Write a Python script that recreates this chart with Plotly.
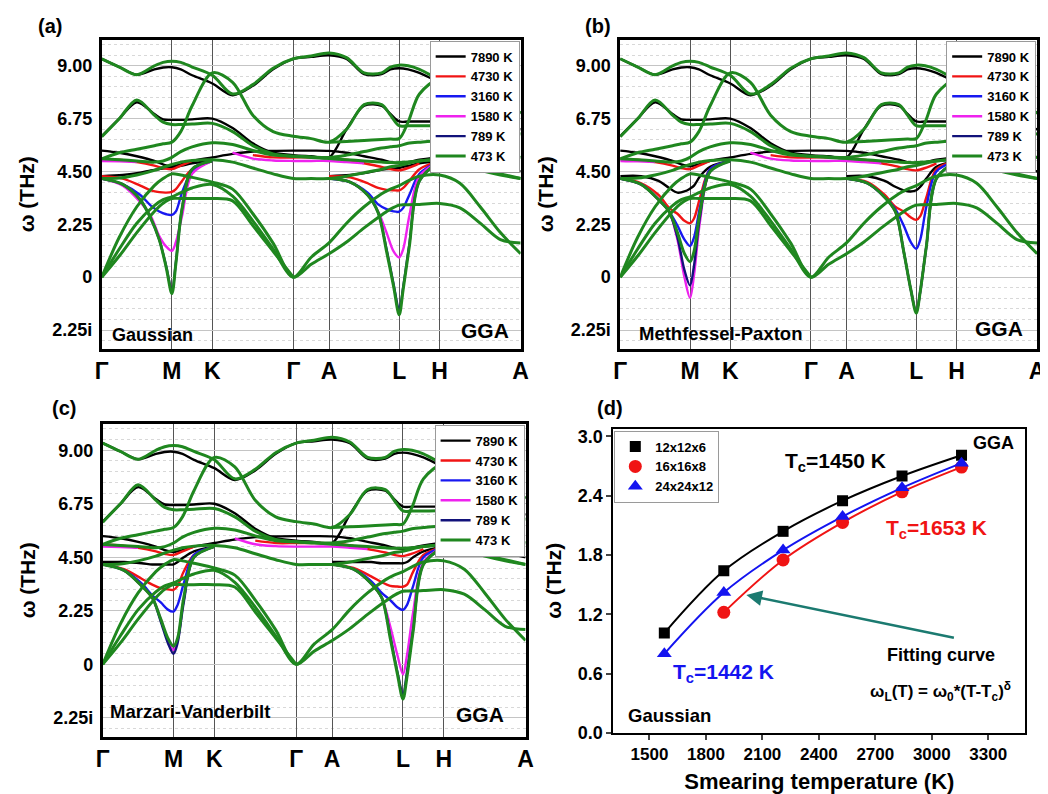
import plotly.graph_objects as go

# ---------------- k-path (hcp: Γ-M-K-Γ-A-L-H-A) ----------------
HS_POS = [0, 0.866, 1.366, 2.366, 2.807, 3.673, 4.173, 5.173]
HS_LABELS = ["Γ", "M", "K", "Γ", "A", "L", "H", "A"]
K_PATH = [0, 0.2165, 0.433, 0.6495, 0.7578, 0.866, 0.976, 1.116, 1.366, 1.616, 1.866, 2.116, 2.366,
          2.5865, 2.807, 3.0235, 3.240, 3.4565, 3.5648, 3.673, 3.783, 3.923, 4.173, 4.423, 4.673, 4.923, 5.173]
K_SOFT_M = [0, 0.26, 0.476, 0.606, 0.710, 0.797, 0.866, 0.916, 0.991, 1.116, 1.366]
K_SOFT_L = [2.807, 3.067, 3.283, 3.413, 3.517, 3.604, 3.673, 3.723, 3.798, 3.923, 4.173]

TEMPS = ["7890 K", "4730 K", "3160 K", "1580 K", "789 K", "473 K"]
COLORS = ["#000000", "#f01414", "#1818f0", "#ee22ee", "#12127a", "#1f871f"]
WIDTHS = [2.4, 2.4, 2.4, 2.4, 2.4, 3.0]

# ---------------- base bands (473 K), THz ----------------
BAND_TOP = [9.30, 8.95, 8.62, 9.0, 9.15, 9.2, 9.15, 8.95, 8.6, 7.8, 8.2, 8.9, 9.30, 9.42, 9.55, 9.35,
            8.7, 8.7, 8.95, 9.03, 9.0, 8.85, 8.4, 8.0, 7.6, 7.2, 7.0]
BAND_CROSS = [5.04, 5.3, 5.45, 5.6, 5.68, 5.75, 6.2, 7.3, 8.7, 8.3, 6.9, 6.2, 6.0, 5.9, 5.75, 6.3,
              7.35, 7.35, 6.9, 6.45, 6.45, 6.45, 6.45, 6.4, 6.3, 6.2, 6.1]
BAND_PEAK = [5.98, 6.75, 7.55, 6.9, 6.6, 6.5, 6.5, 6.52, 6.55, 6.2, 5.6, 5.25, 5.15, 5.1, 5.05, 5.0,
             4.95, 4.9, 4.88, 4.88, 4.9, 4.95, 5.0, 4.8, 4.55, 4.35, 4.2]
BAND_RISE_L = [None] * 14 + [5.75, 5.78, 5.82, 5.86, 5.88, 5.9, 6.6, 7.8, 8.45, 8.2, 7.8, 7.4, 7.0]
BAND_MID = [5.04, 5.0, 4.95, 4.9, 4.95, 5.1, 5.35, 5.55, 5.72, 5.65, 5.4, 5.2, 5.15, 5.12, 5.1, 5.2,
            5.35, 5.5, 5.55, 5.6, 5.7, 5.75, 5.8, 5.7, 5.5, 5.3, 5.1]
BAND_FLAT = [4.2, 4.22, 4.35, 4.55, 4.68, 4.8, 4.9, 4.97, 5.0, 4.9, 4.65, 4.4, 4.2, 4.2, 4.2, 4.3,
             4.45, 4.6, 4.7, 4.75, 4.85, 4.95, 5.0, 4.85, 4.6, 4.4, 4.2]
AC_1 = [0, 1.7, 3.0, 3.9, 4.2, 4.4, 4.35, 4.25, 4.05, 3.75, 2.7, 1.45, 0, 0.85, 1.46, 2.3, 3.0, 3.55,
        3.75, 3.9, 4.1, 4.3, 4.35, 4.0, 3.0, 1.9, 1.0]
AC_2 = [0, 1.2, 2.3, 3.05, 3.3, 3.42, 3.6, 3.8, 3.95, 3.45, 2.4, 1.2, 0, 0.55, 1.0, 1.5, 2.1, 2.65,
        2.9, 3.07, 3.08, 3.1, 3.14, 2.95, 2.3, 1.6, 1.46]
AC_3 = [0, 0.9, 1.9, 2.8, 3.15, 3.35, 3.35, 3.35, 3.35, 3.25, 2.2, 1.1, 0] + [None] * 14

# high-smearing (7890 K) and intermediate offsets
HOT_TOP = [9.30, 8.95, 8.62, 8.85, 8.93, 8.94, 8.85, 8.6, 8.25, 7.75, 8.15, 8.85, 9.30, 9.38, 9.45,
           9.3, 8.65, 8.65, 8.85, 8.9, 8.85, 8.7, 8.3, 8.0, 7.6, 7.2, 7.0]
HOT_PEAK = [6.0, 6.75, 7.45, 6.95, 6.72, 6.7, 6.7, 6.72, 6.75, 6.35, 5.7, 5.3, 5.2, 5.15, 5.1, 6.3,
            7.3, 7.3, 6.95, 6.63, 6.63, 6.63, 6.63, 6.6, 6.5, 6.4, 6.3]
HOT_MID = [5.39, 5.3, 5.15, 4.95, 4.8, 4.72, 4.8, 4.95, 5.1, 5.25, 5.35, 5.38, 5.39, 5.39, 5.38, 5.3,
           5.15, 5.0, 4.9, 4.85, 4.9, 5.0, 5.1, 5.05, 4.9, 4.7, 4.5]
RED_MID = [5.04, 5.0, 4.9, 4.75, 4.65, 4.6, 4.75, 4.95, None, None, 5.2, 5.1, 5.1, 5.1, 5.08, 5.0, 4.85,
           4.7, 4.6, 4.55, 4.65, 4.85, None, None, None, None, None]
MAG_MID = [4.95, 4.93, 4.9, None, None, None, None, None, None, 5.3, 5.05, 4.97, 4.95, 4.95, 4.95, 4.9,
           4.85, None, None, None, None, None, None, None, None, None, None]

# soft modes (rows follow TEMPS order)
SOFT_M_A = [[4.3, 4.35, 4.45, 4.55, 4.6, 4.65, 4.67, 4.7, 4.75, 4.85, 4.95],
            [4.3, 4.2, 3.9, 3.7, 3.62, 3.6, 3.63, 3.75, 4.1, 4.6, 4.95],
            [4.2, 3.95, 3.5, 3.05, 2.8, 2.68, 2.65, 2.8, 3.6, 4.5, 4.95],
            [4.2, 3.9, 3.2, 2.6, 1.75, 1.3, 1.12, 1.5, 2.6, 4.4, 4.95],
            [4.2, 3.95, 3.3, 2.5, 1.6, 0.45, -0.6, 0.65, 2.9, 4.6, 4.95],
            [4.2, 3.95, 3.3, 2.5, 1.6, 0.4, -0.7, 0.6, 2.9, 4.6, 4.95]]
SOFT_L_A = [[4.3, 4.35, 4.45, 4.55, 4.6, 4.62, 4.65, 4.7, 4.75, 4.85, 4.95],
            [4.3, 4.25, 4.0, 3.8, 3.72, 3.7, 3.7, 3.8, 4.1, 4.6, 4.95],
            [4.2, 4.05, 3.6, 3.1, 2.9, 2.8, 2.79, 2.95, 3.5, 4.4, 4.95],
            [4.2, 4.05, 3.5, 2.8, 1.9, 1.1, 0.84, 1.2, 2.6, 4.3, 4.95],
            [4.2, 4.05, 3.5, 2.75, 1.2, -0.3, -1.4, -0.4, 1.4, 4.1, 4.95],
            [4.2, 4.05, 3.5, 2.75, 1.1, -0.4, -1.6, -0.5, 1.3, 4.1, 4.95]]
SOFT_M_B = [[4.3, 4.3, 4.1, 3.8, 3.6, 3.65, 3.77, 3.9, 4.3, 4.7, 4.95],
            [4.2, 4.0, 3.5, 2.95, 2.7, 2.4, 2.3, 2.5, 3.4, 4.6, 4.95],
            [4.2, 3.95, 3.3, 2.8, 2.2, 1.6, 1.33, 1.7, 3.0, 4.6, 4.95],
            [4.2, 3.95, 3.3, 2.8, 1.6, 0.0, -0.88, 0.1, 2.4, 4.5, 4.95],
            [4.2, 3.95, 3.3, 2.8, 1.7, 0.3, -0.35, 0.5, 2.6, 4.5, 4.95],
            [4.2, 3.95, 3.3, 2.8, 1.9, 1.0, 0.66, 1.1, 2.8, 4.5, 4.95]]
SOFT_L_B = [[4.3, 4.3, 4.1, 3.85, 3.7, 3.65, 3.7, 3.85, 4.2, 4.7, 4.95],
            [4.2, 4.05, 3.5, 3.0, 2.8, 2.55, 2.44, 2.6, 3.4, 4.6, 4.95],
            [4.2, 4.0, 3.4, 2.9, 2.2, 1.5, 1.21, 1.6, 3.0, 4.5, 4.95],
            [4.2, 4.0, 3.4, 2.8, 1.1, -0.5, -1.5, -0.6, 1.3, 4.2, 4.95],
            [4.2, 4.0, 3.4, 2.8, 1.1, -0.5, -1.5, -0.6, 1.3, 4.2, 4.95],
            [4.2, 4.0, 3.4, 2.8, 1.1, -0.5, -1.53, -0.6, 1.3, 4.2, 4.95]]
SOFT_M_C = [[4.3, 4.3, 4.25, 4.2, 4.2, 4.2, 4.2, 4.3, 4.5, 4.75, 4.95],
            [4.2, 4.0, 3.6, 3.35, 3.2, 3.15, 3.13, 3.3, 3.9, 4.6, 4.95],
            [4.2, 3.95, 3.4, 2.9, 2.6, 2.3, 2.22, 2.5, 3.4, 4.6, 4.95],
            [4.2, 3.95, 3.3, 2.8, 1.9, 1.0, 0.6, 1.0, 2.7, 4.5, 4.95],
            [4.2, 3.95, 3.3, 2.8, 1.8, 0.9, 0.44, 0.9, 2.6, 4.5, 4.95],
            [4.2, 3.95, 3.3, 2.8, 1.9, 1.1, 0.76, 1.1, 2.8, 4.5, 4.95]]
SOFT_L_C = [[4.3, 4.3, 4.3, 4.25, 4.25, 4.25, 4.25, 4.3, 4.5, 4.75, 4.95],
            [4.2, 4.05, 3.7, 3.45, 3.3, 3.27, 3.26, 3.35, 3.9, 4.6, 4.95],
            [4.2, 4.0, 3.5, 3.0, 2.7, 2.4, 2.29, 2.5, 3.3, 4.5, 4.95],
            [4.2, 4.0, 3.4, 2.8, 1.6, 0.4, -0.42, 0.4, 2.2, 4.3, 4.95],
            [4.2, 4.0, 3.4, 2.8, 1.2, -0.3, -1.25, -0.3, 1.5, 4.2, 4.95],
            [4.2, 4.0, 3.4, 2.8, 1.1, -0.4, -1.46, -0.5, 1.4, 4.2, 4.95]]

Y_TICKS = [-2.25, 0, 2.25, 4.5, 6.75, 9.0]
Y_TICKTEXT = ["2.25i", "0", "2.25", "4.50", "6.75", "9.00"]

# ---------------- panel (d) data ----------------
T_SMEAR = [1579, 1895, 2210, 2526, 2842, 3158]
W_12 = [1.01, 1.64, 2.04, 2.35, 2.60, 2.81]
T_16 = [1895, 2210, 2526, 2842, 3158]
W_16 = [1.22, 1.75, 2.13, 2.44, 2.69]
W_24 = [0.80, 1.42, 1.85, 2.19, 2.48, 2.73]
GRIDS = ["12x12x6", "16x16x8", "24x24x12"]

FONT = "Liberation Sans, Arial, sans-serif"
W, H = 1048, 794

fig = go.Figure()

panels = [
    ("x", "y", "legend", SOFT_M_A, SOFT_L_A),
    ("x2", "y2", "legend2", SOFT_M_B, SOFT_L_B),
    ("x3", "y3", "legend3", SOFT_M_C, SOFT_L_C),
]

base_bands = [BAND_TOP, BAND_CROSS, BAND_PEAK, BAND_RISE_L, BAND_MID, BAND_FLAT, AC_1, AC_2, AC_3]

for xa, ya, leg, soft_m, soft_l in panels:
    for ti, (tname, col, wd) in enumerate(zip(TEMPS, COLORS, WIDTHS)):
        curves = []
        if ti == 0:
            curves += [(K_PATH, HOT_TOP), (K_PATH, HOT_PEAK), (K_PATH, HOT_MID)]
        if ti == 1:
            curves += [(K_PATH, RED_MID)]
        if ti == 3:
            curves += [(K_PATH, MAG_MID)]
        curves += [(K_SOFT_M, soft_m[ti]), (K_SOFT_L, soft_l[ti])]
        if ti == 5:
            curves = [(K_PATH, b) for b in base_bands] + curves
        for ci, (kx, vals) in enumerate(curves):
            fig.add_trace(go.Scatter(
                x=kx, y=vals, mode="lines", name=tname, legendgroup=tname + xa,
                showlegend=(ci == 0), legend=leg, connectgaps=False,
                line=dict(color=col, width=wd, shape="spline", smoothing=0.9),
                xaxis=xa, yaxis=ya, hoverinfo="skip"))

# panel (d)
fig.add_trace(go.Scatter(x=T_SMEAR, y=W_12, mode="lines", line=dict(color="black", width=2, shape="spline"),
                         showlegend=False, xaxis="x4", yaxis="y4"))
fig.add_trace(go.Scatter(x=T_16, y=W_16, mode="lines", line=dict(color="#f01414", width=2, shape="spline"),
                         showlegend=False, xaxis="x4", yaxis="y4"))
fig.add_trace(go.Scatter(x=T_SMEAR, y=W_24, mode="lines", line=dict(color="#1414f0", width=2, shape="spline"),
                         showlegend=False, xaxis="x4", yaxis="y4"))
fig.add_trace(go.Scatter(x=T_SMEAR, y=W_12, mode="markers", name=GRIDS[0], legend="legend4",
                         marker=dict(symbol="square", size=11, color="black"), xaxis="x4", yaxis="y4"))
fig.add_trace(go.Scatter(x=T_16, y=W_16, mode="markers", name=GRIDS[1], legend="legend4",
                         marker=dict(symbol="circle", size=13, color="#f01414"), xaxis="x4", yaxis="y4"))
fig.add_trace(go.Scatter(x=T_SMEAR, y=W_24, mode="markers", name=GRIDS[2], legend="legend4",
                         marker=dict(symbol="triangle-up", size=13, color="#1414f0"), xaxis="x4", yaxis="y4"))


def px_dom_x(a, b):
    return [a / W, b / W]


def px_dom_y(top, bot):
    return [1 - bot / H, 1 - top / H]


band_x = dict(range=[0, HS_POS[-1]], tickmode="array", tickvals=HS_POS, ticktext=HS_LABELS,
              showgrid=True, gridcolor="#555555", gridwidth=1.2, zeroline=False,
              showline=True, mirror=True, linecolor="black", linewidth=2.5, ticks="",
              tickfont=dict(family=FONT, size=23, color="black", weight="bold"), ticklabelstandoff=0)
band_y = dict(range=[-3.05, 10.12], tickmode="array", tickvals=Y_TICKS, ticktext=Y_TICKTEXT,
              showgrid=True, gridcolor="#c4c4c4", gridwidth=1, zeroline=False,
              minor=dict(tick0=0, dtick=0.45, showgrid=True, gridcolor="#d8d8d8", griddash="dot", gridwidth=1),
              showline=True, mirror=True, linecolor="black", linewidth=2.5, ticks="",
              tickfont=dict(family=FONT, size=18, color="black", weight="bold"), ticklabelstandoff=3,
              title=dict(text="ω (THz)", font=dict(family=FONT, size=21, color="black", weight="bold"), standoff=12))

legend_common = dict(bgcolor="white", bordercolor="#9a9a9a", borderwidth=1, yanchor="top",
                     font=dict(family=FONT, size=13, color="black", weight="bold"), tracegroupgap=0,
                     itemwidth=30)

fig.update_layout(
    width=W, height=H, margin=dict(l=0, r=0, t=0, b=0),
    paper_bgcolor="white", plot_bgcolor="white",
    font=dict(family=FONT, color="black"),
    xaxis=dict(band_x, domain=px_dom_x(88, 513), anchor="y"),
    yaxis=dict(band_y, domain=px_dom_y(30, 344), anchor="x"),
    xaxis2=dict(band_x, domain=px_dom_x(614, 1037), anchor="y2"),
    yaxis2=dict(band_y, domain=px_dom_y(30, 344), anchor="x2"),
    xaxis3=dict(band_x, domain=px_dom_x(89, 518), anchor="y3"),
    yaxis3=dict(band_y, domain=px_dom_y(420, 738), anchor="x3"),
    xaxis4=dict(domain=px_dom_x(607, 1025), anchor="y4", range=[1308, 3497], tickmode="array",
                tickvals=[1500, 1800, 2100, 2400, 2700, 3000, 3300], showgrid=False, zeroline=False,
                showline=True, mirror=True, linecolor="black", linewidth=2, ticks="outside", ticklen=5,
                tickwidth=1.5, tickfont=dict(family=FONT, size=17, color="black", weight="bold"),
                title=dict(text="Smearing temperature (K)", standoff=10,
                           font=dict(family=FONT, size=22, color="black", weight="bold"))),
    yaxis4=dict(domain=px_dom_y(425, 734), anchor="x4", range=[0, 3.08], tickmode="array",
                tickvals=[0, 0.6, 1.2, 1.8, 2.4, 3.0], ticktext=["0.0", "0.6", "1.2", "1.8", "2.4", "3.0"],
                showgrid=False, zeroline=False, showline=True, mirror=True, linecolor="black", linewidth=2,
                ticks="outside", ticklen=5, tickwidth=1.5,
                tickfont=dict(family=FONT, size=18, color="black", weight="bold"),
                title=dict(text="ω (THz)", standoff=10, font=dict(family=FONT, size=21, color="black", weight="bold"))),
    legend=dict(legend_common, x=512 / W, xanchor="right", y=1 - 31 / H),
    legend2=dict(legend_common, x=1036 / W, xanchor="right", y=1 - 31 / H),
    legend3=dict(legend_common, x=517 / W, xanchor="right", y=1 - 421 / H),
    legend4=dict(legend_common, x=608 / W, xanchor="left", y=1 - 427 / H),
)


def ann(text, x, y, size, color="black", xanchor="center", yanchor="middle"):
    fig.add_annotation(text=text, x=x / W, y=1 - y / H, xref="paper", yref="paper", showarrow=False,
                       xanchor=xanchor, yanchor=yanchor,
                       font=dict(family=FONT, size=size, color=color, weight="bold"))


ann("(a)", 36, 16, 20)
ann("(b)", 591, 16, 20)
ann("(c)", 50, 404, 20)
ann("(d)", 604, 404, 20)
ann("Gaussian", 140, 330, 18)
ann("GGA", 477, 325, 21)
ann("Methfessel-Paxton", 716, 328, 18.5)
ann("GGA", 998, 323, 21)
ann("Marzari-Vanderbilt", 178, 712, 18.5)
ann("GGA", 472, 715, 21)
ann("GGA", 993, 440, 18)
ann("T<sub>c</sub>=1450 K", 832, 459, 21)
ann("T<sub>c</sub>=1653 K", 935, 527, 21, "#f01414")
ann("T<sub>c</sub>=1442 K", 719, 673, 21, "#1414f0")
ann("Fitting curve", 939, 655, 18)
ann("ω<sub>L</sub>(T) = ω<sub>0</sub>*(T-T<sub>c</sub>)<sup>δ</sup>", 939, 692, 17)
ann("Gaussian", 664, 716, 18.5)

fig.add_annotation(x=742 / W, y=1 - 594 / H, ax=951 - 742, ay=637 - 594, xref="paper", yref="paper",
                   axref="pixel", ayref="pixel", showarrow=True, arrowhead=2, arrowsize=1.2,
                   arrowwidth=2.6, arrowcolor="#1b7a70", text="")

fig.write_html("out.html")
